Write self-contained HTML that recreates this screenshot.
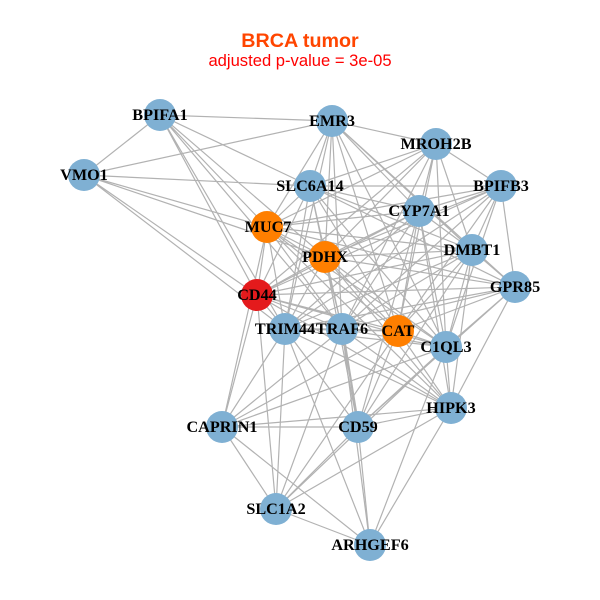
<!DOCTYPE html>
<html><head><meta charset="utf-8"><style>html,body{margin:0;padding:0;background:#fff}svg{display:block}</style></head><body>
<svg width="600" height="600" viewBox="0 0 600 600" xmlns="http://www.w3.org/2000/svg">
<rect width="600" height="600" fill="#fff"/>
<g fill="none" stroke="#b2b2b2" stroke-width="1.2">
<path d="M160 115L332 121 160 115 84 175 160 115 310 186 160 115 267 227 160 115 325 257 160 115 257 295 160 115 285 329 160 115 342 329"/>
<path d="M84 175L332 121 84 175 310 186 84 175 267 227 84 175 325 257 84 175 257 295 84 175 285 329"/>
<path d="M332 121L436 144 332 121 310 186 332 121 419 211 332 121 267 227 332 121 325 257 332 121 472 250 332 121 515 287 332 121 398 331 332 121 285 329 332 121 342 329 332 121 446 347"/>
<path d="M436 144L501 186 436 144 310 186 436 144 419 211 436 144 267 227 436 144 325 257 436 144 472 250 436 144 398 331 436 144 342 329 436 144 446 347 436 144 257 295"/>
<path d="M501 186L310 186 501 186 419 211 501 186 267 227 501 186 325 257 501 186 472 250 501 186 515 287 501 186 257 295 501 186 285 329 501 186 342 329 501 186 398 331 501 186 446 347"/>
<path d="M310 186L419 211 310 186 267 227 310 186 325 257 310 186 472 250 310 186 257 295 310 186 285 329 310 186 342 329 310 186 398 331 310 186 446 347 310 186 515 287"/>
<path d="M419 211L267 227 419 211 325 257 419 211 472 250 419 211 257 295 419 211 285 329 419 211 342 329 419 211 398 331 419 211 446 347 419 211 451 408 419 211 358 427"/>
<path d="M267 227L325 257 267 227 257 295 267 227 285 329 267 227 342 329 267 227 398 331 267 227 472 250 267 227 515 287 267 227 446 347 267 227 451 408 267 227 222 427"/>
<path d="M325 257L472 250 325 257 515 287 325 257 257 295 325 257 285 329 325 257 342 329 325 257 398 331 325 257 446 347 325 257 451 408 325 257 358 427"/>
<path d="M472 250L515 287 472 250 257 295 472 250 285 329 472 250 398 331 472 250 446 347 472 250 451 408 472 250 342 329 472 250 358 427"/>
<path d="M515 287L257 295 515 287 285 329 515 287 342 329 515 287 398 331 515 287 446 347 515 287 451 408 515 287 358 427"/>
<path d="M257 295L285 329 257 295 342 329 257 295 398 331 257 295 446 347 257 295 222 427 257 295 276 509 257 295 451 408"/>
<path d="M285 329L342 329 285 329 398 331 285 329 222 427 285 329 358 427 285 329 276 509 285 329 370 545 285 329 451 408 285 329 446 347"/>
<path d="M342 329L398 331 342 329 446 347 342 329 451 408 342 329 358 427 343 329 359 427 342 329 222 427 342 329 276 509 342 329 370 545"/>
<path d="M398 331L446 347 398 331 451 408 398 331 358 427 398 331 276 509 398 331 222 427"/>
<path d="M446 347L451 408 446 347 358 427 446 347 222 427 446 347 276 509 446 347 370 545"/>
<path d="M451 408L358 427 451 408 222 427 451 408 276 509 451 408 370 545"/>
<path d="M358 427L222 427 358 427 276 509 358 427 370 545"/>
<path d="M222 427L276 509 222 427 370 545"/>
<path d="M276 509L370 545"/>
</g>
<g fill="#7fb0d3">
<circle cx="160" cy="115" r="16"/><circle cx="84" cy="175" r="16"/><circle cx="332" cy="121" r="16"/><circle cx="436" cy="144" r="16"/><circle cx="501" cy="186" r="16"/><circle cx="310" cy="186" r="16"/><circle cx="419" cy="211" r="16"/><circle cx="472" cy="250" r="16"/><circle cx="515" cy="287" r="16"/><circle cx="285" cy="329" r="16"/><circle cx="342" cy="329" r="16"/><circle cx="446" cy="347" r="16"/><circle cx="451" cy="408" r="16"/><circle cx="358" cy="427" r="16"/><circle cx="222" cy="427" r="16"/><circle cx="276" cy="509" r="16"/><circle cx="370" cy="545" r="16"/>
</g>
<g fill="#ff7f00"><circle cx="267" cy="227" r="16"/><circle cx="325" cy="257" r="16"/><circle cx="398" cy="331" r="16"/></g>
<circle cx="257" cy="295" r="16" fill="#e41a1c"/>
<g font-family="'Liberation Serif',serif" font-weight="bold" font-size="16.2" fill="#000" text-anchor="middle">
<text x="160" y="120">BPIFA1</text><text x="84" y="180">VMO1</text><text x="332" y="126">EMR3</text><text x="436" y="149">MROH2B</text><text x="501" y="191">BPIFB3</text><text x="310" y="191">SLC6A14</text><text x="419" y="216">CYP7A1</text><text x="268" y="232">MUC7</text><text x="325" y="262">PDHX</text><text x="472" y="255">DMBT1</text><text x="515" y="292">GPR85</text><text x="257" y="300">CD44</text><text x="285" y="334">TRIM44</text><text x="342" y="334">TRAF6</text><text x="398" y="336">CAT</text><text x="446" y="352">C1QL3</text><text x="451" y="413">HIPK3</text><text x="358" y="432">CD59</text><text x="222" y="432">CAPRIN1</text><text x="276" y="514">SLC1A2</text><text x="370" y="550">ARHGEF6</text>
</g>
<g font-family="'Liberation Sans',sans-serif" text-anchor="middle">
<text x="300" y="47" font-size="19.7" font-weight="bold" fill="#ff4500">BRCA tumor</text>
<text x="300" y="66" font-size="16.6" fill="#ff0000">adjusted p-value = 3e-05</text>
</g>
</svg>
</body></html>
